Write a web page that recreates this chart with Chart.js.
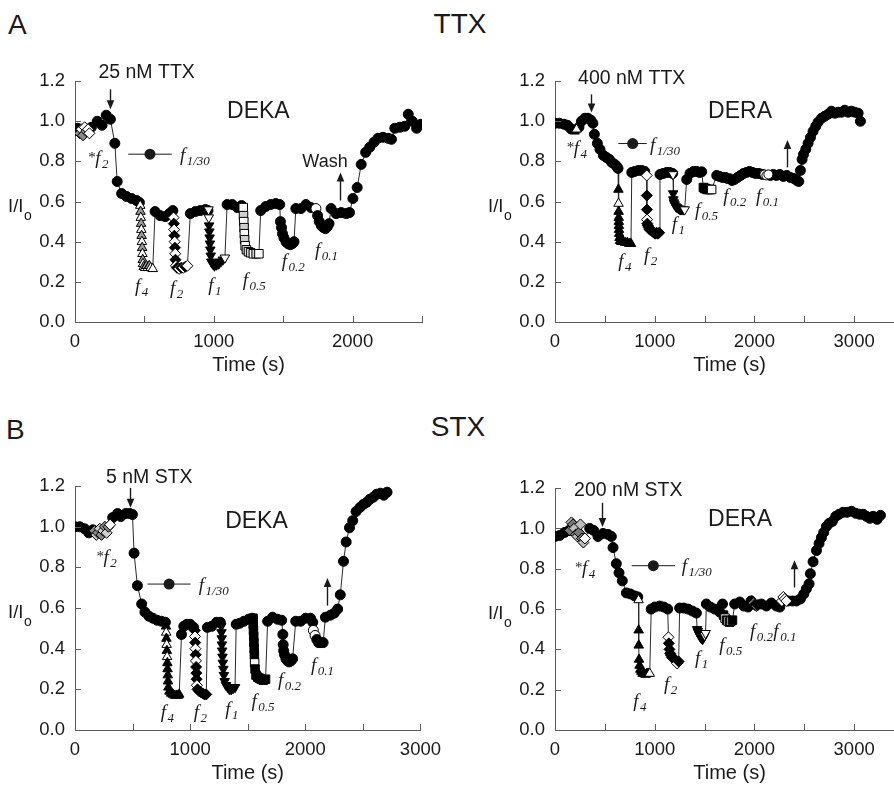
<!DOCTYPE html>
<html>
<head>
<meta charset="utf-8">
<script src="https://cdn.jsdelivr.net/npm/chart.js@4.4.1/dist/chart.umd.min.js"></script>
<style>
  html, body { margin: 0; padding: 0; background: #fff; }
  body { width: 894px; height: 787px; overflow: hidden; position: relative; }
  canvas { position: absolute; }
  .big { position: absolute; font: 28px/28px "Liberation Sans", Arial, sans-serif; color: #1a1a1a; white-space: nowrap; }
</style>
</head>
<body>
<div class="big" style="left:8px;top:11px">A</div>
<div class="big" style="left:460px;top:10px;transform:translateX(-50%)">TTX</div>
<div class="big" style="left:6px;top:416px">B</div>
<div class="big" style="left:458px;top:413px;transform:translateX(-50%)">STX</div>

<canvas id="pA1" width="450" height="317" style="left:0px;top:60px"></canvas>
<canvas id="pA2" width="440" height="317" style="left:480px;top:60px"></canvas>
<canvas id="pB1" width="450" height="320" style="left:0px;top:465px"></canvas>
<canvas id="pB2" width="440" height="318" style="left:480px;top:467px"></canvas>

<script>
// ---------- recordings: [time (s), I/Io] ----------

// A, DEKA, 25 nM TTX
const dekaTTX_f1_30 = [[0,0.955],[20,0.965],[118,0.97],[160,1.0],[195,0.98],[225,1.03],[255,1.01],[287,0.89],[304,0.70],[336,0.64],[372,0.625],[408,0.615],[444,0.605],[464,0.595],[577,0.55],[613,0.53],[650,0.525],[680,0.54],[705,0.555],[831,0.54],[867,0.55],[903,0.555],[939,0.56],[958,0.555],[1096,0.585],[1133,0.585],[1169,0.57],[1200,0.58],[1338,0.555],[1374,0.575],[1410,0.585],[1447,0.59],[1475,0.585],[1591,0.565],[1628,0.565],[1664,0.585],[1700,0.57],[1845,0.565],[1881,0.54],[1918,0.545],[1954,0.54],[1978,0.545],[2002,0.615],[2033,0.67],[2062,0.785],[2094,0.845],[2123,0.87],[2154,0.895],[2183,0.915],[2219,0.92],[2256,0.915],[2280,0.91],[2304,0.965],[2340,0.97],[2376,0.975],[2401,1.035],[2430,1.0],[2461,0.965],[2492,0.985]];
const dekaTTX_pre = [[35,0.94],[47,0.96],[58,0.93],[70,0.97],[82,0.95],[94,0.96],[104,0.94]];
const dekaTTX_f4 = [[470,0.58],[472,0.55],[474,0.52],[476,0.49],[478,0.46],[480,0.43],[482,0.40],[484,0.37],[486,0.34],[488,0.31],[490,0.29],[495,0.275],[505,0.27],[515,0.28],[525,0.27],[535,0.28],[545,0.27],[560,0.265]];
const dekaTTX_f2 = [[710,0.52],[712,0.49],[714,0.46],[716,0.43],[718,0.40],[720,0.37],[722,0.34],[724,0.31],[727,0.28],[735,0.27],[750,0.265],[765,0.27],[780,0.27],[795,0.275],[810,0.28]];
const dekaTTX_f1 = [[962,0.56],[964,0.52],[966,0.48],[968,0.45],[970,0.42],[972,0.39],[975,0.36],[978,0.33],[982,0.30],[992,0.29],[1005,0.28],[1020,0.285],[1035,0.29],[1050,0.30],[1065,0.31],[1080,0.32]];
const dekaTTX_f05 = [[1212,0.57],[1214,0.53],[1216,0.50],[1218,0.47],[1220,0.44],[1222,0.41],[1226,0.38],[1235,0.36],[1250,0.35],[1265,0.345],[1285,0.34],[1305,0.34],[1325,0.34]];
const dekaTTX_f02 = [[1480,0.50],[1488,0.47],[1495,0.44],[1505,0.42],[1520,0.40],[1535,0.39],[1550,0.385],[1565,0.39],[1578,0.40]];
const dekaTTX_f01 = [[1736,0.565],[1748,0.53],[1760,0.50],[1775,0.48],[1790,0.47],[1805,0.465],[1818,0.475],[1830,0.49]];

// A, DERA, 400 nM TTX
const deraTTX_f1_30 = [[0,0.99],[45,0.99],[90,0.985],[125,0.98],[155,0.965],[240,0.97],[265,1.0],[300,1.015],[330,1.015],[360,1.005],[380,0.99],[395,0.935],[425,0.89],[451,0.86],[485,0.83],[515,0.82],[545,0.81],[570,0.795],[600,0.785],[620,0.775],[632,0.765],[770,0.745],[800,0.75],[835,0.755],[870,0.755],[900,0.75],[1053,0.735],[1085,0.74],[1120,0.745],[1150,0.745],[1180,0.74],[1321,0.71],[1354,0.74],[1390,0.75],[1421,0.75],[1450,0.745],[1471,0.748],[1622,0.73],[1650,0.725],[1680,0.72],[1710,0.72],[1730,0.715],[1775,0.705],[1800,0.71],[1830,0.72],[1860,0.73],[1890,0.74],[1920,0.745],[1950,0.75],[1980,0.745],[2010,0.74],[2045,0.74],[2080,0.735],[2160,0.73],[2190,0.735],[2220,0.73],[2255,0.735],[2290,0.725],[2325,0.73],[2360,0.72],[2395,0.715],[2425,0.705],[2445,0.70],[2461,0.755],[2478,0.81],[2492,0.835],[2515,0.86],[2538,0.89],[2562,0.92],[2588,0.95],[2615,0.975],[2638,0.995],[2672,1.015],[2705,1.025],[2739,1.035],[2772,1.05],[2806,1.04],[2839,1.045],[2873,1.045],[2906,1.055],[2940,1.045],[2973,1.05],[3006,1.045],[3040,1.04],[3063,1.0]];
const deraTTX_pre = [[178,0.955],[196,0.95],[216,0.96]];
const deraTTX_f4 = [[636,0.66],[637,0.59],[638,0.55],[639,0.52],[640,0.50],[641,0.48],[642,0.46],[644,0.44],[647,0.42],[652,0.405],[665,0.40],[685,0.40],[705,0.395],[725,0.395],[745,0.39],[762,0.39]];
const deraTTX_f2 = [[920,0.73],[921,0.63],[922,0.56],[923,0.51],[926,0.49],[932,0.48],[940,0.47],[950,0.46],[960,0.46],[970,0.455],[980,0.45],[992,0.445],[1005,0.44],[1018,0.445],[1030,0.44],[1045,0.445]];
const deraTTX_f1 = [[1184,0.735],[1185,0.64],[1187,0.61],[1192,0.595],[1200,0.585],[1212,0.575],[1225,0.57],[1240,0.565],[1255,0.56],[1270,0.56],[1285,0.56],[1300,0.56]];
const deraTTX_f05 = [[1488,0.67],[1500,0.665],[1512,0.665],[1525,0.66],[1540,0.66],[1555,0.66],[1571,0.66]];
const deraTTX_f02 = [[1740,0.715],[1752,0.71],[1764,0.715]];
const deraTTX_f01 = [[2100,0.735],[2120,0.73],[2140,0.735]];

// B, DEKA, 5 nM STX
const dekaSTX_f1_30 = [[0,1.0],[40,1.0],[83,0.99],[120,0.97],[155,0.985],[327,1.045],[370,1.065],[398,1.05],[441,1.065],[476,1.065],[499,1.06],[513,0.87],[542,0.71],[579,0.62],[607,0.58],[642,0.56],[676,0.55],[713,0.54],[751,0.535],[785,0.53],[925,0.47],[945,0.51],[971,0.52],[1000,0.52],[1030,0.505],[1150,0.505],[1186,0.51],[1229,0.53],[1262,0.53],[1400,0.52],[1430,0.525],[1467,0.535],[1507,0.545],[1540,0.55],[1673,0.535],[1716,0.555],[1759,0.545],[1795,0.54],[1917,0.535],[1960,0.535],[2003,0.55],[2046,0.55],[2065,0.53],[2175,0.555],[2218,0.565],[2252,0.575],[2281,0.595],[2304,0.665],[2332,0.83],[2355,0.925],[2384,0.995],[2412,1.03],[2441,1.075],[2475,1.095],[2504,1.11],[2533,1.12],[2561,1.135],[2590,1.145],[2619,1.16],[2653,1.165],[2682,1.155],[2710,1.17]];
const dekaSTX_pre = [[170,0.98],[185,0.96],[200,0.97],[215,0.99],[230,0.96],[245,0.98],[260,1.0],[275,0.97],[290,1.0],[305,1.01]];
const dekaSTX_f4 = [[790,0.51],[792,0.48],[794,0.45],[796,0.42],[798,0.39],[800,0.36],[802,0.33],[804,0.30],[806,0.27],[808,0.24],[811,0.21],[820,0.19],[835,0.18],[850,0.175],[865,0.17],[880,0.17],[895,0.17],[905,0.175]];
const dekaSTX_f2 = [[1040,0.49],[1042,0.46],[1044,0.43],[1046,0.40],[1048,0.37],[1050,0.34],[1052,0.31],[1054,0.28],[1056,0.25],[1058,0.22],[1064,0.20],[1080,0.19],[1095,0.185],[1110,0.18],[1125,0.175],[1140,0.175]];
const dekaSTX_f1 = [[1270,0.51],[1272,0.48],[1274,0.45],[1276,0.42],[1278,0.39],[1281,0.36],[1284,0.33],[1288,0.30],[1293,0.27],[1300,0.24],[1312,0.22],[1327,0.21],[1342,0.20],[1357,0.20],[1372,0.205],[1390,0.21]];
const dekaSTX_f05 = [[1546,0.55],[1548,0.52],[1550,0.49],[1552,0.46],[1554,0.43],[1556,0.40],[1558,0.37],[1560,0.33],[1564,0.30],[1572,0.27],[1587,0.26],[1602,0.255],[1617,0.25],[1635,0.245],[1655,0.25]];
const dekaSTX_f02 = [[1805,0.47],[1808,0.42],[1812,0.39],[1820,0.37],[1832,0.35],[1846,0.34],[1860,0.335],[1875,0.34],[1890,0.35]];
const dekaSTX_f01 = [[2070,0.49],[2085,0.465],[2100,0.445],[2115,0.43],[2135,0.43],[2155,0.43]];

// B, DERA, 200 nM STX
const deraSTX_f1_30 = [[0,0.96],[47,0.965],[97,0.98],[140,0.99],[348,1.0],[388,0.99],[431,0.96],[482,0.975],[532,0.97],[565,0.96],[582,0.905],[615,0.825],[642,0.78],[675,0.74],[716,0.68],[756,0.675],[799,0.665],[830,0.66],[965,0.60],[1000,0.61],[1050,0.615],[1090,0.61],[1130,0.60],[1250,0.605],[1291,0.605],[1334,0.60],[1378,0.59],[1418,0.58],[1518,0.625],[1558,0.61],[1602,0.60],[1652,0.585],[1680,0.625],[1802,0.625],[1853,0.635],[1893,0.615],[1936,0.61],[1965,0.64],[2070,0.625],[2120,0.615],[2170,0.63],[2220,0.615],[2254,0.61],[2337,0.64],[2381,0.64],[2421,0.64],[2461,0.65],[2495,0.675],[2521,0.70],[2548,0.725],[2561,0.775],[2588,0.835],[2622,0.89],[2648,0.925],[2672,0.955],[2695,0.98],[2722,1.01],[2749,1.025],[2782,1.035],[2816,1.06],[2849,1.07],[2889,1.08],[2929,1.08],[2973,1.085],[3016,1.075],[3056,1.07],[3090,1.07],[3123,1.06],[3157,1.05],[3190,1.06],[3230,1.045],[3264,1.065]];
const deraSTX_pre = [[150,0.99],[165,1.03],[180,1.02],[195,1.0],[210,0.97],[225,0.96],[240,0.98],[255,1.02],[270,0.95],[285,0.93],[300,0.95]];
const deraSTX_f4 = [[838,0.645],[839,0.495],[840,0.42],[843,0.35],[848,0.32],[856,0.30],[866,0.29],[878,0.28],[893,0.28],[908,0.275],[923,0.28],[938,0.28],[950,0.28]];
const deraSTX_f2 = [[1138,0.46],[1142,0.43],[1148,0.40],[1155,0.38],[1165,0.37],[1175,0.36],[1185,0.355],[1195,0.35],[1210,0.345],[1225,0.33],[1240,0.34]];
const deraSTX_f1 = [[1425,0.50],[1432,0.49],[1440,0.48],[1450,0.47],[1460,0.46],[1470,0.455],[1480,0.45],[1490,0.46],[1500,0.47],[1510,0.48]];
const deraSTX_f05 = [[1690,0.57],[1705,0.555],[1720,0.545],[1735,0.54],[1750,0.535],[1765,0.54],[1780,0.545]];
const deraSTX_f02 = [[1975,0.64],[1990,0.63],[2005,0.62],[2020,0.615],[2035,0.62]];
const deraSTX_f01 = [[2275,0.64],[2290,0.66],[2305,0.65],[2320,0.64]];

// ---------- drawing ----------
const SANS = '"Liberation Sans", Arial, Helvetica, sans-serif';
const SERIF = '"Liberation Serif", "Times New Roman", Times, serif';
const INK = '#1a1a1a';
const AXIS = '#5c5c5c';
const TICK = 6;

const toXY = pts => pts.map(([x, y]) => ({ x, y }));

// continuous trace joining every sample in time order
function traceDataset(arrs) {
  const all = arrs.flat().slice().sort((a, b) => a[0] - b[0]);
  return { data: toXY(all), showLine: true, pointRadius: 0, borderColor: '#2a2a2a',
           borderWidth: 1, tension: 0, order: 3 };
}

function mainDataset(pts) {
  return { data: toXY(pts), showLine: false, pointStyle: 'circle', pointRadius: 5,
           pointBackgroundColor: '#000', pointBorderColor: '#000', pointBorderWidth: 1, order: 2 };
}

// stimulus-train samples: marker shape, fill cycle, indices drawn hollow
function trainDataset(pts, st) {
  const fills = st.fills || ['#000'];
  const open = st.open || [];
  const n = pts.length;
  return {
    data: toXY(pts), showLine: false,
    pointStyle: st.shape, pointRotation: st.rot || 0, pointRadius: st.r || 5,
    pointBorderColor: '#000', pointBorderWidth: 1,
    pointBackgroundColor: c => {
      const i = c.dataIndex;
      if (open.includes(i) || (st.openLast && i === n - 1)) return '#fff';
      return fills[i % fills.length];
    },
    order: 1
  };
}

function drawF(ctx, x, y, sub, star) {
  ctx.textAlign = 'left';
  ctx.textBaseline = 'alphabetic';
  if (star) {
    ctx.font = `15px ${SERIF}`;
    ctx.fillText('*', x, y - 2);
    x += 7;
  }
  ctx.font = `italic 19px ${SERIF}`;
  ctx.fillText('f', x, y);
  const w = ctx.measureText('f').width;
  ctx.font = `italic 13px ${SERIF}`;
  ctx.fillText(sub, x + w + 1.5, y + 4);
}

function notesPlugin(items) {
  return {
    id: 'notes',
    afterDraw(chart) {
      const { ctx, chartArea: ca } = chart;
      const xs = chart.scales.x, ys = chart.scales.y;
      const X = t => xs.getPixelForValue(t);
      const Y = v => ys.getPixelForValue(v);
      ctx.save();

      // inward tick marks
      ctx.strokeStyle = AXIS;
      ctx.lineWidth = 1;
      ctx.beginPath();
      xs.ticks.forEach(tk => {
        const px = Math.round(X(tk.value)) + 0.5;
        ctx.moveTo(px, ca.bottom);
        ctx.lineTo(px, ca.bottom - TICK);
      });
      ys.ticks.forEach(tk => {
        const py = Math.round(Y(tk.value)) + 0.5;
        ctx.moveTo(ca.left, py);
        ctx.lineTo(ca.left + TICK, py);
      });
      ctx.stroke();

      // y label I/Io
      ctx.fillStyle = INK;
      ctx.textAlign = 'left';
      ctx.textBaseline = 'alphabetic';
      ctx.font = `18.5px ${SANS}`;
      const lx = ca.left - 67, ly = Y(0.6) + 10;
      ctx.fillText('I/I', lx, ly);
      const lw = ctx.measureText('I/I').width;
      ctx.font = `14px ${SANS}`;
      ctx.fillText('o', lx + lw + 0.5, ly + 8);

      ctx.strokeStyle = INK;
      ctx.fillStyle = INK;
      for (const it of items) {
        if (it.kind === 'text') {
          ctx.font = `${it.size}px ${SANS}`;
          ctx.textAlign = 'center';
          ctx.textBaseline = 'alphabetic';
          ctx.fillText(it.text, X(it.t), Y(it.v));
        } else if (it.kind === 'arrow') {
          const x = Math.round(X(it.t)) + 0.5, y0 = Y(it.v0), y1 = Y(it.v1);
          const dir = Math.sign(y1 - y0);
          ctx.lineWidth = 1.4;
          ctx.beginPath();
          ctx.moveTo(x, y0);
          ctx.lineTo(x, y1 - dir * 7);
          ctx.stroke();
          ctx.beginPath();
          ctx.moveTo(x, y1);
          ctx.lineTo(x - 3.8, y1 - dir * 9);
          ctx.lineTo(x + 3.8, y1 - dir * 9);
          ctx.closePath();
          ctx.fill();
        } else if (it.kind === 'f') {
          drawF(ctx, X(it.t), Y(it.v), it.sub, it.star);
        } else if (it.kind === 'key') {
          const y = Y(it.v);
          ctx.lineWidth = 1;
          ctx.beginPath();
          ctx.moveTo(X(it.t0), y);
          ctx.lineTo(X(it.t1), y);
          ctx.stroke();
          ctx.beginPath();
          ctx.arc(X(it.tc), y, 5.5, 0, Math.PI * 2);
          ctx.fill();
          drawF(ctx, X(it.tt), Y(it.vt), it.sub, false);
        }
      }
      ctx.restore();
    }
  };
}

function makePanel(id, cfg) {
  const datasets = [traceDataset(cfg.series.map(s => s.pts)), mainDataset(cfg.series[0].pts)];
  cfg.series.slice(1).forEach(s => datasets.push(trainDataset(s.pts, s.st)));
  new Chart(document.getElementById(id), {
    type: 'scatter',
    data: { datasets },
    options: {
      responsive: false,
      animation: false,
      events: [],
      layout: { padding: { top: 20, right: cfg.padRight, bottom: 0, left: 0 } },
      plugins: { legend: { display: false }, tooltip: { enabled: false } },
      scales: {
        x: {
          type: 'linear', position: 'bottom', min: 0, max: cfg.xMax,
          afterFit: s => { s.height = 55; },
          grid: { display: false, drawTicks: false },
          border: { display: true, color: AXIS, width: 1 },
          ticks: {
            stepSize: 500, autoSkip: false, maxRotation: 0, minRotation: 0, padding: 9,
            color: INK, font: { family: SANS, size: 18.5 },
            callback: v => (v % 1000 === 0 ? String(v) : '')
          },
          title: { display: true, text: 'Time (s)', color: INK, font: { family: SANS, size: 20 }, padding: 0 }
        },
        y: {
          type: 'linear', min: 0, max: 1.2,
          afterFit: s => { s.width = 75; },
          grid: { display: false, drawTicks: false },
          border: { display: true, color: AXIS, width: 1 },
          ticks: {
            stepSize: 0.2, padding: 10, color: INK, font: { family: SANS, size: 18.5 },
            callback: v => Number(v).toFixed(1)
          }
        }
      }
    },
    plugins: [notesPlugin(cfg.notes)]
  });
}

makePanel('pA1', {
  xMax: 2500, padRight: 28,
  series: [
    { pts: dekaTTX_f1_30 },
    { pts: dekaTTX_pre, st: { shape: 'rectRot', r: 5.5, fills: ['#8a8a8a', '#fff'], openLast: true } },
    { pts: dekaTTX_f4, st: { shape: 'triangle', r: 5.5, fills: ['#fff', '#9a9a9a'], openLast: true } },
    { pts: dekaTTX_f2, st: { shape: 'rectRot', r: 5.5, fills: ['#fff', '#000'] } },
    { pts: dekaTTX_f1, st: { shape: 'triangle', rot: 180, r: 5.5, fills: ['#000'], open: [0, 1], openLast: true } },
    { pts: dekaTTX_f05, st: { shape: 'rect', r: 6, fills: ['#fff', '#d0d0d0'] } },
    { pts: dekaTTX_f02, st: { shape: 'circle', r: 5, fills: ['#000'] } },
    { pts: dekaTTX_f01, st: { shape: 'circle', r: 5, fills: ['#000'], open: [0] } }
  ],
  notes: [
    { kind: 'text', text: '25 nM TTX', size: 19.5, t: 516, v: 1.216 },
    { kind: 'arrow', t: 252, v0: 1.159, v1: 1.06 },
    { kind: 'text', text: 'DEKA', size: 23, t: 1321, v: 1.015 },
    { kind: 'key', t0: 384, t1: 697, tc: 540, v: 0.836, tt: 756, vt: 0.803, sub: '1/30' },
    { kind: 'f', t: 96, v: 0.788, sub: '2', star: true },
    { kind: 'text', text: 'Wash', size: 18, t: 1801, v: 0.77 },
    { kind: 'arrow', t: 1909, v0: 0.605, v1: 0.745 },
    { kind: 'f', t: 432, v: 0.149, sub: '4' },
    { kind: 'f', t: 684, v: 0.139, sub: '2' },
    { kind: 'f', t: 960, v: 0.154, sub: '1' },
    { kind: 'f', t: 1208, v: 0.178, sub: '0.5' },
    { kind: 'f', t: 1489, v: 0.273, sub: '0.2' },
    { kind: 'f', t: 1729, v: 0.327, sub: '0.1' }
  ]
});

makePanel('pA2', {
  xMax: 3500, padRight: 16,
  series: [
    { pts: deraTTX_f1_30 },
    { pts: deraTTX_pre, st: { shape: 'triangle', r: 5.5, fills: ['#000'], openLast: true } },
    { pts: deraTTX_f4, st: { shape: 'triangle', r: 5.5, fills: ['#000'], open: [1] } },
    { pts: deraTTX_f2, st: { shape: 'rectRot', r: 5.5, fills: ['#000'], open: [0, 3] } },
    { pts: deraTTX_f1, st: { shape: 'triangle', rot: 180, r: 5.5, fills: ['#000'], open: [0], openLast: true } },
    { pts: deraTTX_f05, st: { shape: 'rect', r: 6, fills: ['#000'], openLast: true } },
    { pts: deraTTX_f02, st: { shape: 'rectRot', r: 5, fills: ['#000'] } },
    { pts: deraTTX_f01, st: { shape: 'circle', r: 4.5, fills: ['#fff'] } }
  ],
  notes: [
    { kind: 'text', text: '400 nM TTX', size: 19.5, t: 769, v: 1.184 },
    { kind: 'arrow', t: 358, v0: 1.134, v1: 1.043 },
    { kind: 'text', text: 'DERA', size: 23, t: 1856, v: 1.015 },
    { kind: 'key', t0: 635, t1: 920, tc: 779, v: 0.889, tt: 953, vt: 0.853, sub: '1/30' },
    { kind: 'f', t: 117, v: 0.836, sub: '4', star: true },
    { kind: 'arrow', t: 2330, v0: 0.77, v1: 0.906 },
    { kind: 'f', t: 635, v: 0.274, sub: '4' },
    { kind: 'f', t: 893, v: 0.302, sub: '2' },
    { kind: 'f', t: 1170, v: 0.456, sub: '1' },
    { kind: 'f', t: 1404, v: 0.53, sub: '0.5' },
    { kind: 'f', t: 1688, v: 0.597, sub: '0.2' },
    { kind: 'f', t: 2016, v: 0.597, sub: '0.1' }
  ]
});

makePanel('pB1', {
  xMax: 3000, padRight: 26,
  series: [
    { pts: dekaSTX_f1_30 },
    { pts: dekaSTX_pre, st: { shape: 'rectRot', r: 5.5, fills: ['#8a8a8a', '#cfcfcf'], openLast: true } },
    { pts: dekaSTX_f4, st: { shape: 'triangle', r: 5.5, fills: ['#000'], open: [1, 3, 5] } },
    { pts: dekaSTX_f2, st: { shape: 'rectRot', r: 5.5, fills: ['#000'], open: [1, 3, 5, 9] } },
    { pts: dekaSTX_f1, st: { shape: 'triangle', rot: 180, r: 5.5, fills: ['#000'] } },
    { pts: dekaSTX_f05, st: { shape: 'rect', r: 6, fills: ['#000'], open: [7] } },
    { pts: dekaSTX_f02, st: { shape: 'circle', r: 5, fills: ['#000'] } },
    { pts: dekaSTX_f01, st: { shape: 'circle', r: 5, fills: ['#000'], open: [0, 1] } }
  ],
  notes: [
    { kind: 'text', text: '5 nM STX', size: 19.5, t: 645, v: 1.216 },
    { kind: 'arrow', t: 479, v0: 1.191, v1: 1.094 },
    { kind: 'text', text: 'DEKA', size: 23, t: 1576, v: 0.996 },
    { kind: 'key', t0: 630, t1: 1003, tc: 817, v: 0.718, tt: 1075, vt: 0.686, sub: '1/30' },
    { kind: 'f', t: 186, v: 0.824, sub: '2', star: true },
    { kind: 'arrow', t: 2192, v0: 0.612, v1: 0.748 },
    { kind: 'f', t: 745, v: 0.059, sub: '4' },
    { kind: 'f', t: 1032, v: 0.059, sub: '2' },
    { kind: 'f', t: 1304, v: 0.073, sub: '1' },
    { kind: 'f', t: 1533, v: 0.114, sub: '0.5' },
    { kind: 'f', t: 1762, v: 0.215, sub: '0.2' },
    { kind: 'f', t: 2049, v: 0.289, sub: '0.1' }
  ]
});

makePanel('pB2', {
  xMax: 3500, padRight: 16,
  series: [
    { pts: deraSTX_f1_30 },
    { pts: deraSTX_pre, st: { shape: 'rectRot', r: 5.5, fills: ['#777', '#bdbdbd'], openLast: true } },
    { pts: deraSTX_f4, st: { shape: 'triangle', r: 5.5, fills: ['#000'], open: [0], openLast: true } },
    { pts: deraSTX_f2, st: { shape: 'rectRot', r: 5.5, fills: ['#000'], open: [0, 9] } },
    { pts: deraSTX_f1, st: { shape: 'triangle', rot: 180, r: 5.5, fills: ['#000'], open: [8, 9] } },
    { pts: deraSTX_f05, st: { shape: 'rect', r: 6, fills: ['#000', '#fff'] } },
    { pts: deraSTX_f02, st: { shape: 'rectRot', r: 5.5, fills: ['#000', '#666'] } },
    { pts: deraSTX_f01, st: { shape: 'rectRot', r: 5.5, fills: ['#fff'] } }
  ],
  notes: [
    { kind: 'text', text: '200 nM STX', size: 19.5, t: 735, v: 1.16 },
    { kind: 'arrow', t: 475, v0: 1.127, v1: 1.007 },
    { kind: 'text', text: 'DERA', size: 23, t: 1856, v: 1.012 },
    { kind: 'key', t0: 769, t1: 1204, tc: 986, v: 0.815, tt: 1271, vt: 0.782, sub: '1/30' },
    { kind: 'f', t: 201, v: 0.776, sub: '4', star: true },
    { kind: 'arrow', t: 2397, v0: 0.707, v1: 0.842 },
    { kind: 'f', t: 785, v: 0.115, sub: '4' },
    { kind: 'f', t: 1093, v: 0.198, sub: '2' },
    { kind: 'f', t: 1404, v: 0.326, sub: '1' },
    { kind: 'f', t: 1648, v: 0.392, sub: '0.5' },
    { kind: 'f', t: 1956, v: 0.461, sub: '0.2' },
    { kind: 'f', t: 2190, v: 0.461, sub: '0.1' }
  ]
});
</script>
</body>
</html>
